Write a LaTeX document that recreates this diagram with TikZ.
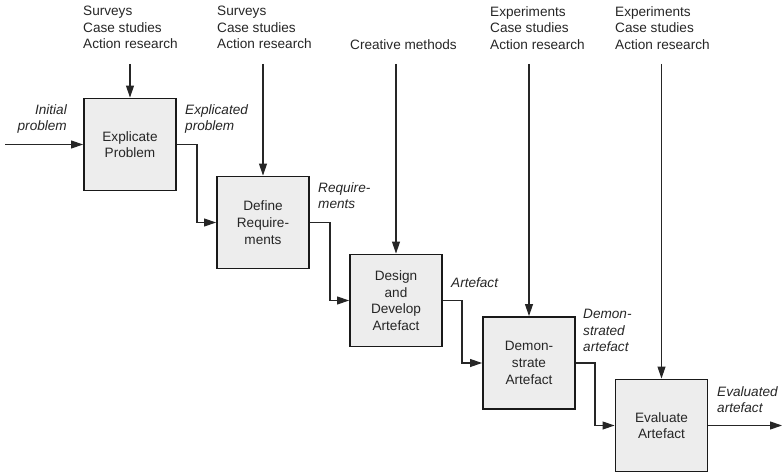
\documentclass[tikz,border=0pt]{standalone}
\usepackage{fontspec}
\setmainfont{Liberation Sans}
\usetikzlibrary{arrows.meta}
\begin{document}
\begin{tikzpicture}[x=1pt,y=-1pt,
  txt/.style={font=\fontsize{13.6}{16.5}\selectfont, inner sep=0pt, text=black!85},
  lbl/.style={txt, font=\fontsize{13.6}{16.5}\selectfont\itshape},
  stepbox/.style={draw=black!90, line width=1.9pt, fill=black!7,
    minimum width=92pt, minimum height=92pt, inner sep=0pt, align=center,
    font=\fontsize{13.6}{16.7}\selectfont, text=black!85},
  flow/.style={draw=black!85, line width=1.1pt, -{Triangle[length=12pt,width=8pt]}}]
\useasboundingbox (0,0) rectangle (782,473);

% activity boxes
\node[stepbox] (b1) at (130,144.5) {Explicate\\Problem};
\node[stepbox] (b2) at (263,222.5) {Define\\Require-\\ments};
\node[stepbox] (b3) at (396,300.5) {Design\\and\\Develop\\Artefact};
\node[stepbox] (b4) at (529,363) {Demon-\\strate\\Artefact};
\node[stepbox] (b5) at (661.5,425.5) {Evaluate\\Artefact};

% research methods above each box
\node[txt, anchor=north west, align=left] (m1) at (83,6) {Surveys\\Case studies\\Action research};
\node[txt, anchor=north west, align=left] (m2) at (217,6) {Surveys\\Case studies\\Action research};
\node[txt, anchor=north west, align=left] (m3) at (350,39) {Creative methods};
\node[txt, anchor=north west, align=left] (m4) at (490,6) {Experiments\\Case studies\\Action research};
\node[txt, anchor=north west, align=left] (m5) at (615,6) {Experiments\\Case studies\\Action research};

\coordinate (t1) at (130,64);
\coordinate (t2) at (263,64);
\coordinate (t3) at (396,64);
\coordinate (t4) at (529,64);
\coordinate (t5) at (661.5,64);
\foreach \i in {1,...,5} \draw[flow] (t\i) -- (b\i.north);

% input and output of the process
\coordinate (in) at (5,144.5);
\coordinate (out) at (782,425.5);
\draw[flow] (in) -- (b1.west);
\draw[flow] (b5.east) -- (out);

% hand-over between consecutive activities
\draw[flow] (b1.east) -- ++(20,0) |- (b2.west);
\draw[flow] (b2.east) -- ++(20,0) |- (b3.west);
\draw[flow] (b3.east) -- ++(19,0) |- (b4.west);
\draw[flow] (b4.east) -- ++(19,0) |- (b5.west);

% intermediate results
\node[lbl, anchor=north east, align=right] (r0) at (67,104) {Initial\\problem};
\node[lbl, anchor=north west, align=left] (r1) at (185,104) {Explicated\\problem};
\node[lbl, anchor=north west, align=left] (r2) at (318,182) {Require-\\ments};
\node[lbl, anchor=north west, align=left] (r3) at (451,277) {Artefact};
\node[lbl, anchor=north west, align=left] (r4) at (583,309) {Demon-\\strated\\artefact};
\node[lbl, anchor=north west, align=left] (r5) at (717,386) {Evaluated\\artefact};
\end{tikzpicture}
\end{document}
